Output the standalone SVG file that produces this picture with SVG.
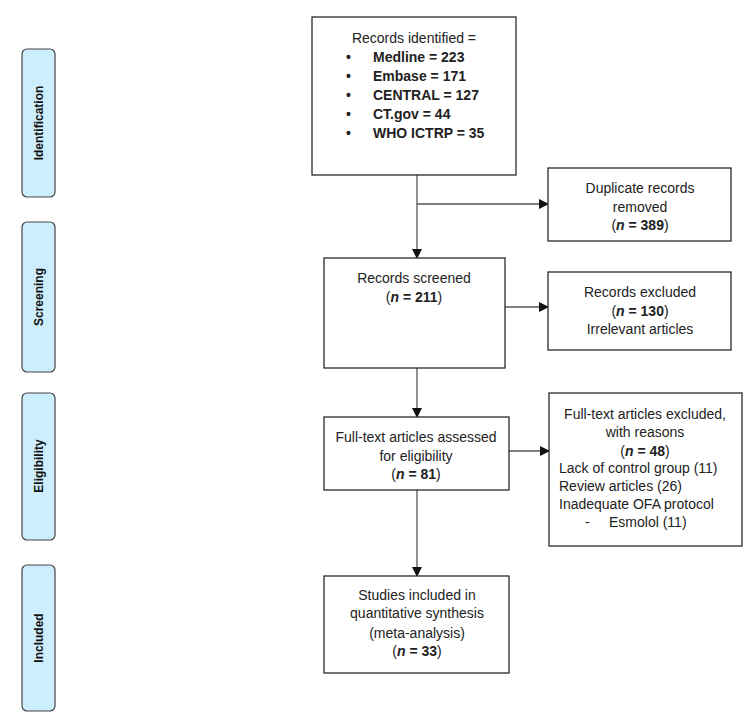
<svg xmlns="http://www.w3.org/2000/svg" width="756" height="725" viewBox="0 0 756 725">
<style>
.box{fill:#fff;stroke:#2a2a2a;stroke-width:1.3}
.side{fill:#cdeefc;stroke:#444;stroke-width:1.2}
.t{font-family:"Liberation Sans",Arial,sans-serif;font-size:14px;fill:#222}
.c{text-anchor:middle}
.b{font-weight:bold}
.st{font-family:"Liberation Sans",Arial,sans-serif;font-size:12px;font-weight:bold;fill:#111;text-anchor:middle}
.ln{fill:none;stroke:#555;stroke-width:1.3}
</style>
<defs>
<marker id="ah" markerWidth="10" markerHeight="10" refX="9" refY="5" orient="auto" markerUnits="userSpaceOnUse">
<path d="M0,0 L10,5 L0,10 z" fill="#111"/>
</marker>
</defs>
<rect width="756" height="725" fill="#fff"/>
<g id="stage-identification">
<rect class="side" x="22" y="49" width="33" height="148" rx="5"/>
<text class="st" transform="translate(43,123) rotate(-90)">Identification</text>
</g>
<g id="stage-screening">
<rect class="side" x="22" y="222" width="33" height="150" rx="5"/>
<text class="st" transform="translate(43,297) rotate(-90)">Screening</text>
</g>
<g id="stage-eligibility">
<rect class="side" x="22" y="393" width="33" height="147" rx="5"/>
<text class="st" transform="translate(43,466) rotate(-90)">Eligibility</text>
</g>
<g id="stage-included">
<rect class="side" x="22" y="565" width="33" height="146" rx="5"/>
<text class="st" transform="translate(43,638) rotate(-90)">Included</text>
</g>
<g id="connectors">
<path class="ln" d="M417,175 V258" marker-end="url(#ah)"/>
<path class="ln" d="M417,204 H548" marker-end="url(#ah)"/>
<path class="ln" d="M505,307 H548" marker-end="url(#ah)"/>
<path class="ln" d="M417,368 V417" marker-end="url(#ah)"/>
<path class="ln" d="M509,451 H549" marker-end="url(#ah)"/>
<path class="ln" d="M417,490 V576" marker-end="url(#ah)"/>
</g>
<g id="records-identified">
<rect class="box" x="312" y="17" width="204" height="158"/>
<text class="t c" x="414" y="43">Records identified =</text>
<g class="t b">
<text x="346" y="62">•</text><text x="373" y="62">Medline = 223</text>
<text x="346" y="81">•</text><text x="373" y="81">Embase = 171</text>
<text x="346" y="100">•</text><text x="373" y="100">CENTRAL = 127</text>
<text x="346" y="119">•</text><text x="373" y="119">CT.gov = 44</text>
<text x="346" y="138">•</text><text x="373" y="138">WHO ICTRP = 35</text>
</g>
</g>
<g id="duplicates-removed">
<rect class="box" x="548" y="168" width="183" height="73"/>
<text class="t c" x="640" y="193">Duplicate records</text>
<text class="t c" x="640" y="212">removed</text>
<text class="t c" x="640" y="230">(<tspan class="b" font-style="italic">n</tspan><tspan class="b"> = 389</tspan>)</text>
</g>
<g id="records-screened">
<rect class="box" x="324" y="258" width="181" height="110"/>
<text class="t c" x="414" y="283">Records screened</text>
<text class="t c" x="414" y="302">(<tspan class="b" font-style="italic">n</tspan><tspan class="b"> = 211</tspan>)</text>
</g>
<g id="records-excluded">
<rect class="box" x="548" y="272" width="183" height="78"/>
<text class="t c" x="640" y="297">Records excluded</text>
<text class="t c" x="640" y="316">(<tspan class="b" font-style="italic">n</tspan><tspan class="b"> = 130</tspan>)</text>
<text class="t c" x="640" y="334">Irrelevant articles</text>
</g>
<g id="fulltext-assessed">
<rect class="box" x="324" y="417" width="185" height="73"/>
<text class="t c" x="416" y="442">Full-text articles assessed</text>
<text class="t c" x="416" y="461">for eligibility</text>
<text class="t c" x="416" y="479">(<tspan class="b" font-style="italic">n</tspan><tspan class="b"> = 81</tspan>)</text>
</g>
<g id="fulltext-excluded">
<rect class="box" x="549" y="393" width="193" height="153"/>
<text class="t c" x="645" y="419">Full-text articles excluded,</text>
<text class="t c" x="645" y="437">with reasons</text>
<text class="t c" x="645" y="456">(<tspan class="b" font-style="italic">n</tspan><tspan class="b"> = 48</tspan>)</text>
<text class="t" x="559" y="473">Lack of control group (11)</text>
<text class="t" x="559" y="491">Review articles (26)</text>
<text class="t" x="559" y="509">Inadequate OFA protocol</text>
<text class="t" x="585" y="527">-</text>
<text class="t" x="609" y="527">Esmolol (11)</text>
</g>
<g id="studies-included">
<rect class="box" x="324" y="576" width="185" height="97"/>
<text class="t c" x="417" y="600">Studies included in</text>
<text class="t c" x="417" y="618">quantitative synthesis</text>
<text class="t c" x="417" y="638">(meta-analysis)</text>
<text class="t c" x="417" y="656">(<tspan class="b" font-style="italic">n</tspan><tspan class="b"> = 33</tspan>)</text>
</g>
</svg>
